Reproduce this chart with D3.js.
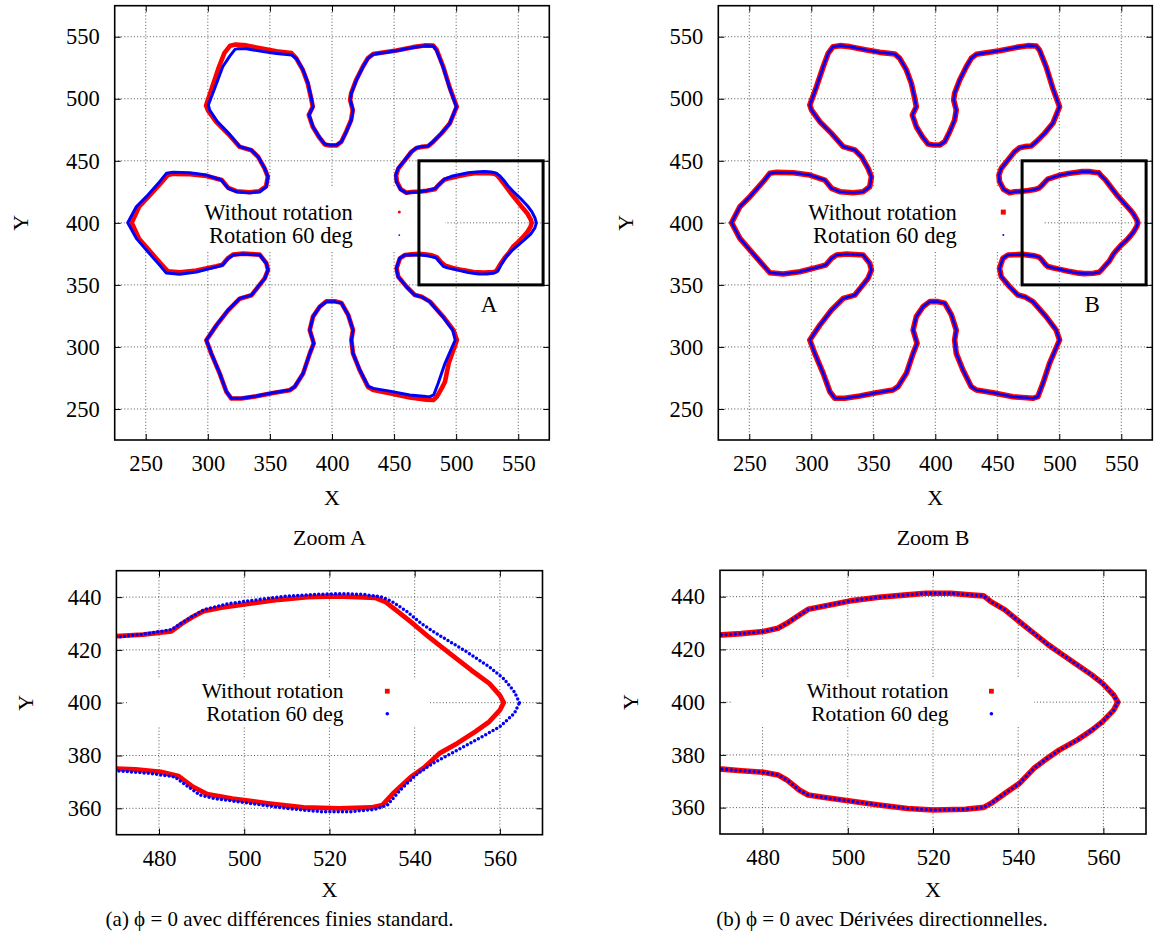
<!DOCTYPE html>
<html><head><meta charset="utf-8">
<script src="https://cdn.jsdelivr.net/npm/d3@7"></script>
<style>
body{margin:0;background:#fff}
svg{display:block}
text{font-family:"Liberation Serif","Times New Roman",serif;fill:#000}
</style>
</head><body>
<svg id="chart" width="1156" height="937"></svg>
<script>
// ---------------- data ----------------
const fullTicks = [250, 300, 350, 400, 450, 500, 550];
const fullDomain = [225, 575];
const zoomXTicks = [480, 500, 520, 540, 560];
const zoomYTicks = [360, 380, 400, 420, 440];
const zoomXDomain = [470, 570];
const zoomYDomain = [350, 450];
const seriesNames = ["Without rotation", "Rotation 60 deg"];
const boxLabels = ["A", "B"];
const boxLabelPos = [526.5, 335];
const zoomTitles = ["Zoom A", "Zoom B"];
const captions = ["(a) \u03D5 = 0 avec diff\u00e9rences finies standard.",
                  "(b) \u03D5 = 0 avec D\u00e9riv\u00e9es directionnelles."];

// (a) standard finite differences, without rotation (red)
const noRotA = [
[560.9,400],[560,402.8],[557.5,407.3],[553.3,412.3],[548.3,418.6],[543.3,424.9],[539.1,430.6],[535.7,435],[533.2,438.1],[530.7,439.7],[526.5,440],[521.5,440.3],[514.8,440],[508.1,439],[501.3,437.5],[494.6,436],[490.5,434.7],[487.9,432.5],[485.4,430],[482.9,427],[476.2,425.8],[470,425.2],
[464,424.8],[459.9,424.3],[455.4,427],[452.2,433.2],[451.7,438.5],[453.5,443.9],[458.8,450.6],[464,457.3],[468,460.3],[472,461.2],[477.3,461.7],[481.4,465.2],[488.1,472],[494.8,480],[500.5,493.6],[495,508.4],[489.6,525.8],[484.3,539.5],[481.6,542.8],[474.7,543],[465.3,541.6],[451.8,538.9],[441.1,537.3],[433.1,536],[428.8,532.6],[424.8,525.8],[419.4,515],[415.4,504.4],[414.6,499],[416.7,490.9],[415.4,482.9],[411.4,473.5],[407.4,465.2],[403.5,462.3],[398.2,462.3],[394.1,463.2],[389.4,469.4],[384.5,477.5],[381.3,486.9],[384.5,493.6],[383.2,500.3],[380.5,512.4],[376.5,523.2],[371.1,532.8],[367.3,536.8],[355.2,538.2],[344.5,540.2],[331,543],[322.5,543.8],[318,542.8],[313.4,537],[309,525.8],[303.6,509.7],[298.6,494.5],[300.2,490.5],[306.9,481.2],[316.3,471.8],[325.7,461.2],[335.1,458.5],[340.5,453.1],[345.8,443.7],[348.3,437.2],[346.9,429.3],[341.6,425.5],[333.7,424.7],[323,425.5],[316.5,428.2],[311.2,434.5],[299,437.8],[285.6,439.2],[272.2,439.5],[267.8,438.5],[262.6,432.5],[252.2,421.1],[244.6,413],[238.7,400.1],
[244.6,387.2],[252.2,378.6],[261.3,368],[267.8,361],[277.5,360.2],[290.8,361.6],[306.9,365],[311.7,366.2],[316.3,371.6],[320.3,374.4],[328.4,375.2],[341.8,374.4],[347.1,367.6],[348.5,362],[345.8,355.3],[340.5,348.4],[335.1,341.6],[325.7,338.9],[316.3,329.5],[306.9,317.4],[298.8,305.4],[302.8,294.6],[309.6,278.5],[315,263.7],[319,258.4],[327,258.4],[339.1,260.2],[352.5,262.9],[365.9,265.1],[369.9,267.8],[376.7,278.5],[382.1,294.6],[385.3,302.9],[382.1,313.6],[384.7,324.4],[390.1,332.4],[395.5,336.8],[402.2,336.8],[407.6,335.5],[413,325.9],[416.9,313.6],[415.6,305.6],[416.9,294.8],[422.3,281.2],[429,267.8],[433.3,265.3],[446.5,262.6],[462.6,259.2],[476,257.4],[481.6,257.2],[484.5,260],[488.5,267],[491,272],[494,286.8],[500.6,305.6],[497.8,313.6],[489.6,324.4],[478.9,336.5],[472.2,340.5],[466.8,341.8],[460,348.6],[453.4,356.6],[452,363.3],[454.7,371.4],[458.8,374.1],[464,374.6],
[470,375],[474.5,374.7],[480.4,373.8],[484.6,372.2],[487.9,368.2],[491.3,365.4],[497.2,363.7],[505.5,361.9],[513.9,360.3],[522.3,360],[529.8,360.3],[532.4,361.2],[534.9,365.6],[539.1,371.9],[542.4,375.7],[545.8,380.8],[550,384.6],[554.2,389],[557.5,392.8],[560,397.2]
];

// (a) standard finite differences, rotation 60 deg (blue)
const rot60A = [
[564.6,400],[563.4,404.1],[560.9,409.1],[557.5,413.6],[551.7,419.8],[545.8,425.5],[541.6,429.9],[538.3,434.4],[534.9,438.1],[532.4,440],[528.2,441],[523.1,441.3],[516.4,441],[509.7,440.3],[503,439],[496.3,437.5],[490.5,435.2],[486.3,431.2],[482.9,427.7],[476.5,426],[470.3,424.9],
[464,424.6],[459.9,424.1],[455.1,427],[451.8,433.2],[451.3,438.5],[453.2,443.9],[458.6,450.6],[463.9,457.3],[468,460.5],[472,461.4],[477.3,461.9],[481.4,465.4],[488.1,472.1],[494.8,480.2],[500.2,493.6],[494.8,508.4],[489.4,525.8],[484,539.3],[481.4,542.5],[474.7,542.8],[465.3,541.4],[451.8,538.7],[441.1,537.1],[433.1,535.8],[429,532.6],[425,525.8],[419.6,515],[415.6,504.4],[414.8,499],[416.9,490.9],[415.6,482.9],[411.6,473.5],[407.6,465.4],[403.5,462.7],[398.2,462.7],[394.1,463.5],[389.6,469.4],[384.7,477.5],[381.5,486.9],[384.7,493.6],[383.4,500.3],[380.7,512.4],[376.7,523.2],[371.5,532.2],[367.6,535.2],[355.2,536.4],[344.5,538],[331,540.3],[324.5,540.4],[321.9,539.8],[317.8,534.6],[312,525.8],[306,509.7],[300.4,495],[301.5,490.9],[307.8,481.5],[316.8,472.1],[325.9,461.4],[335.1,458.7],[340.5,453.3],[345.8,443.9],[348.5,437.2],[347.1,429.1],[341.8,425.1],[333.7,424.3],[323,425.1],[316.3,427.8],[310.9,434.5],[298.8,438.5],[285.4,440.4],[272,440.7],[266.6,439.9],[261.2,433.2],[250.5,421.1],[242.4,413],[235.5,400.1],
[242.4,387.5],[250.5,378.1],[259.9,367.4],[266.6,359.5],[277.3,358.6],[290.8,360.4],[306.9,364.5],[311.7,365.8],[316.3,371.2],[320.3,374],[328.4,374.9],[341.8,374.1],[347.1,367.4],[348.5,362],[345.8,355.3],[340.5,348.6],[335.1,341.8],[325.7,339.1],[316.3,329.7],[306.9,317.6],[298.8,305.6],[302.8,294.8],[309.6,278.7],[315,263.9],[319,258.6],[327,258.6],[339.1,260.4],[352.5,263.1],[365.9,265.3],[369.9,268],[376.7,278.7],[382.1,294.8],[385.3,302.9],[382.1,313.6],[384.7,324.4],[390.1,332.4],[395.5,336.5],[402.2,336.5],[407.6,335.3],[413,325.9],[416.9,313.6],[415.6,305.6],[416.9,294.8],[422.3,281.6],[429,268.4],[433.3,266.6],[446.5,264.4],[462.6,261.2],[476,260],[479,259.9],[482,261.5],[485.5,270.7],[491,286.8],[499.2,305.6],[497.2,313.6],[489.2,324.4],[478.7,336.5],[472,340.5],[466.6,341.8],[459.9,348.6],[453.2,356.6],[451.8,363.3],[454.5,371.4],[458.6,374.1],[464,374],
[470.3,374.2],[477.9,373.2],[483.7,371.9],[486.3,368.8],[489.6,365],[493,363.7],[501.3,361.9],[509.7,360],[518.1,358.7],[524.8,358.7],[530.7,359.6],[533.6,361.2],[536.6,366.9],[540.7,373.2],[544.9,377.6],[550,382],[555.8,387.1],[560,390.9],[563.4,396]
];

// (b) directional derivatives, without rotation (red)
const noRotB = [
[563.4,400],[562.4,402.7],[559.8,407.1],[557.3,410.3],[553.9,414.1],[550.5,417.9],[547.1,421.7],[543.7,426.1],[540.3,430.5],[536.9,435],[533.6,438.1],[531.9,440.3],[529.3,440.6],[524.2,441.3],[518.3,441.3],[513.2,440.6],[507.3,439.8],[500.5,438.4],[494.6,436.5],[490.7,435.2],[488.6,433],[485.7,429.9],[483.6,428],[480.2,426.8],[475,426],[470.4,425.5],
[464,425],[459.9,424.3],[455.1,427],[451.8,433.2],[451.3,438.5],[453.2,443.9],[458.6,450.6],[463.9,457.3],[468,460.5],[472,461.4],[477.3,461.9],[481.4,465.4],[488.1,472.1],[494.8,480.2],[500.2,493.6],[494.8,508.4],[489.4,525.8],[484,539.3],[481.4,542.5],[474.7,542.8],[465.3,541.4],[451.8,538.7],[441.1,537.1],[433.1,535.8],[429,532.6],[425,525.8],[419.6,515],[415.6,504.4],[414.8,499],[416.9,490.9],[415.6,482.9],[411.6,473.5],[407.6,465.4],[403.5,462.7],[398.2,462.7],[394.1,463.5],[389.6,469.4],[384.7,477.5],[381.5,486.9],[384.7,493.6],[383.4,500.3],[380.7,512.4],[376.7,523.2],[371.3,532.6],[367.3,536.1],[355.2,537.4],[344.5,539.3],[331,542],[323,542.8],[317.6,542],[313.6,536.6],[309.6,525.8],[304.2,509.7],[298.8,495],[300.2,490.9],[306.9,481.5],[316.3,472.1],[325.7,461.4],[335.1,458.7],[340.5,453.3],[345.8,443.9],[348.5,437.2],[347.1,429.1],[341.8,425.1],[333.7,424.3],[323,425.1],[316.3,427.8],[310.9,434.5],[298.8,438.5],[285.4,440.4],[272,440.7],[266.6,439.9],[261.2,433.2],[250.5,421.1],[242.4,413],[235.7,400.1],
[242.4,387.5],[250.5,378.1],[259.9,367.4],[266.6,359.8],[277.3,358.8],[290.8,360.6],[306.9,364.7],[311.7,366],[316.3,371.4],[320.3,374.1],[328.4,374.9],[341.8,374.1],[347.1,367.4],[348.5,362],[345.8,355.3],[340.5,348.6],[335.1,341.8],[325.7,339.1],[316.3,329.7],[306.9,317.6],[298.8,305.6],[302.8,294.8],[309.6,278.7],[315,263.9],[319,258.6],[327,258.6],[339.1,260.4],[352.5,263.1],[365.9,265.3],[369.9,268],[376.7,278.7],[382.1,294.8],[385.3,302.9],[382.1,313.6],[384.7,324.4],[390.1,332.4],[395.5,336.5],[402.2,336.5],[407.6,335.3],[413,325.9],[416.9,313.6],[415.6,305.6],[416.9,294.8],[422.3,281.4],[429,268],[433.1,265.3],[446.5,263.1],[462.6,259.9],[478.7,258.6],[482.7,259.9],[486.8,270.7],[492.1,286.8],[500.2,305.6],[497.5,313.6],[489.4,324.4],[478.7,336.5],[472,340.5],[466.6,341.8],[459.9,348.6],[453.2,356.6],[451.8,363.3],[454.5,371.4],[458.6,374.1],[464,374.3],
[470.4,374.6],[475.1,374],[480.2,373.4],[483.6,372.4],[485.7,370.5],[488.6,366.7],[490.7,364.8],[494.6,363.8],[500.5,362.5],[507.3,361],[514,359.7],[520,359.1],[527.6,359.4],[531.9,360.1],[533.6,361.6],[536.9,365.4],[540.3,369.2],[543.7,374.9],[546.3,378.1],[549.7,381.9],[553.9,385.7],[557.3,389.4],[559.8,392.6],[562.4,397]
];

// (b) directional derivatives, rotation 60 deg (blue): coincides with red at reading precision
const rot60B = noRotB.map(([px, py]) => [px, py]);

// ---------------- layout ----------------
const panels = [
  {x:114.7, y:5.7, w:434.6, h:434.3, xd:fullDomain, yd:fullDomain, xt:fullTicks, yt:fullTicks,
   red:noRotA, blue:rot60A, redW:4.6, blueW:3, blueDash:null,
   legend:{tx:352.7, y1:212.1, y2:235.1, mx:399.3, box:[125,188,445,250], fs:22.5, red:"dot", rs:3, bs:1.8},
   boxLabel:boxLabels[0], xLabY:497, yLabX:20, title:null, caption:null},
  {x:718.3, y:5.7, w:434, h:434.3, xd:fullDomain, yd:fullDomain, xt:fullTicks, yt:fullTicks,
   red:noRotB, blue:rot60B, redW:5.6, blueW:2.6, blueDash:null,
   legend:{tx:956.7, y1:212.1, y2:235.1, mx:1003.3, box:[729,188,1043,250], fs:22.5, red:"square", rs:5, bs:2},
   boxLabel:boxLabels[1], xLabY:497, yLabX:625, title:null, caption:null},
  {x:116.4, y:570.7, w:426.1, h:264, xd:zoomXDomain, yd:zoomYDomain, xt:zoomXTicks, yt:zoomYTicks,
   red:noRotA, blue:rot60A, redW:4.8, blueW:3.5, blueDash:"0 4.2",
   legend:{tx:343.5, y1:691.2, y2:713.8, mx:387.3, box:[127,679,430,726], fs:21.5, red:"square", rs:4.8, bs:3.6},
   boxLabel:null, xLabY:889, yLabX:25, title:zoomTitles[0], titleY:537, caption:captions[0], capX:279.5, capY:919},
  {x:720, y:570.3, w:426, h:263.7, xd:zoomXDomain, yd:zoomYDomain, xt:zoomXTicks, yt:zoomYTicks,
   red:noRotB, blue:rot60B, redW:5.6, blueW:3.3, blueDash:"0 4.6",
   legend:{tx:948.5, y1:691.2, y2:713.8, mx:991.4, box:[731,679,1034,726], fs:21.5, red:"square", rs:4.8, bs:3.6},
   boxLabel:null, xLabY:889, yLabX:630, title:zoomTitles[1], titleY:537, caption:captions[1], capX:882, capY:919}
];

const svg = d3.select("#chart");
const defs = svg.append("defs");
const FONT = '"Liberation Serif","Times New Roman",serif';

panels.forEach((p, i) => {
  const g = svg.append("g");
  const x = d3.scaleLinear().domain(p.xd).range([p.x, p.x + p.w]);
  const y = d3.scaleLinear().domain(p.yd).range([p.y + p.h, p.y]);

  // grid
  g.append("g").selectAll("line").data(p.xt).join("line")
    .attr("x1", d => x(d)).attr("x2", d => x(d))
    .attr("y1", p.y).attr("y2", p.y + p.h)
    .attr("stroke", "#555").attr("stroke-width", 1).attr("stroke-dasharray", "1,2.2");
  g.append("g").selectAll("line").data(p.yt).join("line")
    .attr("y1", d => y(d)).attr("y2", d => y(d))
    .attr("x1", p.x).attr("x2", p.x + p.w)
    .attr("stroke", "#555").attr("stroke-width", 1).attr("stroke-dasharray", "1,2.2");

  // opaque key box (under the data)
  const b = p.legend.box;
  g.append("rect").attr("x", b[0]).attr("y", b[1]).attr("width", b[2] - b[0]).attr("height", b[3] - b[1])
    .attr("fill", "#fff");

  // clip
  const cid = "clip" + i;
  defs.append("clipPath").attr("id", cid).append("rect")
    .attr("x", p.x).attr("y", p.y).attr("width", p.w).attr("height", p.h);

  const line = d3.line().x(d => x(d[0])).y(d => y(d[1]));
  const dg = g.append("g").attr("clip-path", `url(#${cid})`);
  dg.append("path").attr("d", line(p.red) + "Z")
    .attr("fill", "none").attr("stroke", "#ff0000").attr("stroke-width", p.redW)
    .attr("stroke-linejoin", "round");
  const bp = dg.append("path").attr("d", line(p.blue) + "Z")
    .attr("fill", "none").attr("stroke", "#0000ff").attr("stroke-width", p.blueW)
    .attr("stroke-linejoin", "round").attr("stroke-linecap", "round");
  if (p.blueDash) bp.attr("stroke-dasharray", p.blueDash);

  // zoom rectangle
  if (p.boxLabel) {
    g.append("rect")
      .attr("x", x(zoomXDomain[0])).attr("y", y(zoomYDomain[1]))
      .attr("width", x(zoomXDomain[1]) - x(zoomXDomain[0]))
      .attr("height", y(zoomYDomain[0]) - y(zoomYDomain[1]))
      .attr("fill", "none").attr("stroke", "#000").attr("stroke-width", 3);
    g.append("text").attr("x", x(boxLabelPos[0])).attr("y", y(boxLabelPos[1]))
      .attr("dy", "0.36em").attr("text-anchor", "middle")
      .attr("font-size", 23).text(p.boxLabel);
  }

  // axes (inward ticks, mirrored)
  const styleAxis = s => {
    s.select(".domain").remove();
    s.attr("font-family", FONT).attr("font-size", 22.5);
    s.selectAll(".tick line").attr("stroke", "#000");
    s.selectAll(".tick text").attr("fill", "#000");
  };
  g.append("g").attr("transform", `translate(0,${p.y + p.h})`)
    .call(d3.axisBottom(x).tickValues(p.xt).tickSizeInner(-6).tickSizeOuter(0).tickPadding(15.5).tickFormat(d3.format("d")))
    .call(styleAxis);
  g.append("g").attr("transform", `translate(0,${p.y})`)
    .call(d3.axisTop(x).tickValues(p.xt).tickSizeInner(-6).tickSizeOuter(0).tickFormat(""))
    .call(styleAxis);
  g.append("g").attr("transform", `translate(${p.x},0)`)
    .call(d3.axisLeft(y).tickValues(p.yt).tickSizeInner(-6).tickSizeOuter(0).tickPadding(15).tickFormat(d3.format("d")))
    .call(styleAxis);
  g.append("g").attr("transform", `translate(${p.x + p.w},0)`)
    .call(d3.axisRight(y).tickValues(p.yt).tickSizeInner(-6).tickSizeOuter(0).tickFormat(""))
    .call(styleAxis);

  // frame
  g.append("rect").attr("x", p.x).attr("y", p.y).attr("width", p.w).attr("height", p.h)
    .attr("fill", "none").attr("stroke", "#000").attr("stroke-width", 1.6);

  // legend
  const L = p.legend;
  g.append("text").attr("x", L.tx).attr("y", L.y1).attr("dy", "0.33em").attr("text-anchor", "end")
    .attr("font-size", L.fs).text(seriesNames[0]);
  g.append("text").attr("x", L.tx).attr("y", L.y2).attr("dy", "0.33em").attr("text-anchor", "end")
    .attr("font-size", L.fs).text(seriesNames[1]);
  if (L.red === "square") {
    g.append("rect").attr("x", L.mx - L.rs / 2).attr("y", L.y1 - L.rs / 2)
      .attr("width", L.rs).attr("height", L.rs).attr("fill", "#ff0000");
  } else {
    g.append("circle").attr("cx", L.mx).attr("cy", L.y1).attr("r", L.rs / 2).attr("fill", "#ff0000");
  }
  g.append("circle").attr("cx", L.mx).attr("cy", L.y2).attr("r", L.bs / 2).attr("fill", "#0000ff");

  // axis labels
  g.append("text").attr("x", p.x + p.w / 2).attr("y", p.xLabY).attr("dy", "0.35em")
    .attr("text-anchor", "middle").attr("font-size", 22).text("X");
  g.append("text").attr("transform", `translate(${p.yLabX},${p.y + p.h / 2}) rotate(-90)`)
    .attr("dy", "0.35em").attr("text-anchor", "middle").attr("font-size", 22).text("Y");

  if (p.title) {
    g.append("text").attr("x", p.x + p.w / 2).attr("y", p.titleY).attr("dy", "0.35em")
      .attr("text-anchor", "middle").attr("font-size", 22).text(p.title);
  }
  if (p.caption) {
    g.append("text").attr("x", p.capX).attr("y", p.capY).attr("dy", "0.35em")
      .attr("text-anchor", "middle").attr("font-size", 21).text(p.caption);
  }
});
</script>
</body></html>
